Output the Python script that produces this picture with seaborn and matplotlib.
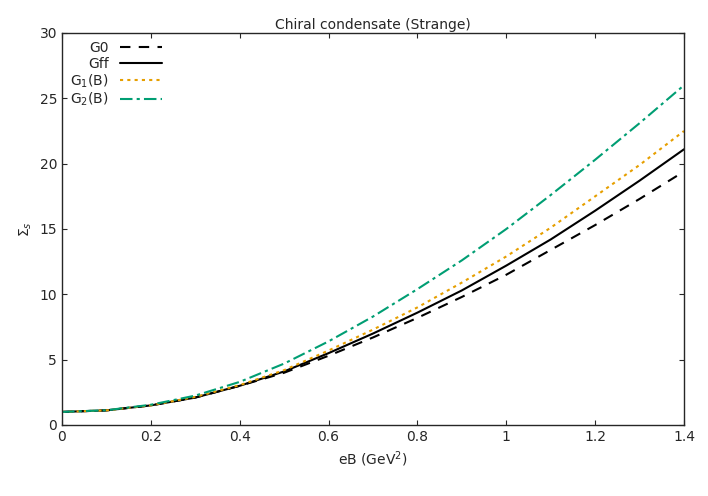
import matplotlib
matplotlib.use('Agg')
import numpy as np
import pandas as pd
import matplotlib.pyplot as plt
import seaborn as sns

eB = [0.0, 0.1, 0.2, 0.3, 0.4, 0.5, 0.6, 0.7, 0.8, 0.9, 1.0, 1.1, 1.2, 1.3, 1.4]
g0 = [1.0, 1.12, 1.5, 2.1, 3.0, 4.0, 5.3, 6.7, 8.2, 9.8, 11.5, 13.4, 15.3, 17.3, 19.4]
gff = [1.0, 1.12, 1.5, 2.1, 3.0, 4.1, 5.5, 7.0, 8.6, 10.3, 12.2, 14.2, 16.4, 18.7, 21.1]
g1 = [1.0, 1.12, 1.5, 2.15, 3.05, 4.2, 5.7, 7.3, 9.0, 10.9, 12.9, 15.1, 17.5, 19.9, 22.5]
g2 = [1.0, 1.13, 1.55, 2.25, 3.3, 4.7, 6.4, 8.3, 10.4, 12.6, 15.0, 17.6, 20.3, 23.1, 26.0]

sns.set_style('ticks')
plt.rcParams['font.family'] = ['DejaVu Sans']

fig = plt.figure(figsize=(7.08, 4.96), dpi=100)
ax = fig.add_axes([62/708, 71/496, 622/708, 392/496])

series = [
    ('G0', g0, 'black', (0, (5, 4))),
    ('Gff', gff, 'black', '-'),
    ('G$_1$(B)', g1, '#e69f00', (0, (1.5, 2))),
    ('G$_2$(B)', g2, '#009e73', (0, (6, 2, 1.5, 2))),
]
for name, vals, col, ls in series:
    df = pd.DataFrame({'eB': eB, 'val': vals})
    sns.lineplot(data=df, x='eB', y='val', ax=ax, color=col, linestyle=ls,
                 linewidth=1.5, label=name)

ax.set_xlim(0, 1.4)
ax.set_ylim(0, 30)
ax.set_xticks(np.arange(0, 1.41, 0.2))
ax.set_xticklabels(['0', '0.2', '0.4', '0.6', '0.8', '1', '1.2', '1.4'])
ax.set_yticks(range(0, 31, 5))
ax.tick_params(direction='in', top=True, right=True, labelsize=10)
for s in ax.spines.values():
    s.set_linewidth(1)
ax.set_xlabel('eB (GeV$^2$)', fontsize=10)
ax.set_ylabel(r'$\Sigma_s$', fontsize=10)
ax.set_title('Chiral condensate (Strange)', fontsize=10, pad=3)
leg = ax.legend(loc='upper left', frameon=False, markerfirst=False,
                fontsize=10, handlelength=3, borderaxespad=0.2,
                labelspacing=0.1)
for t in leg.get_texts():
    t.set_ha('right')
leg._legend_box.align = 'right'

fig.savefig('out.png', dpi=100)
